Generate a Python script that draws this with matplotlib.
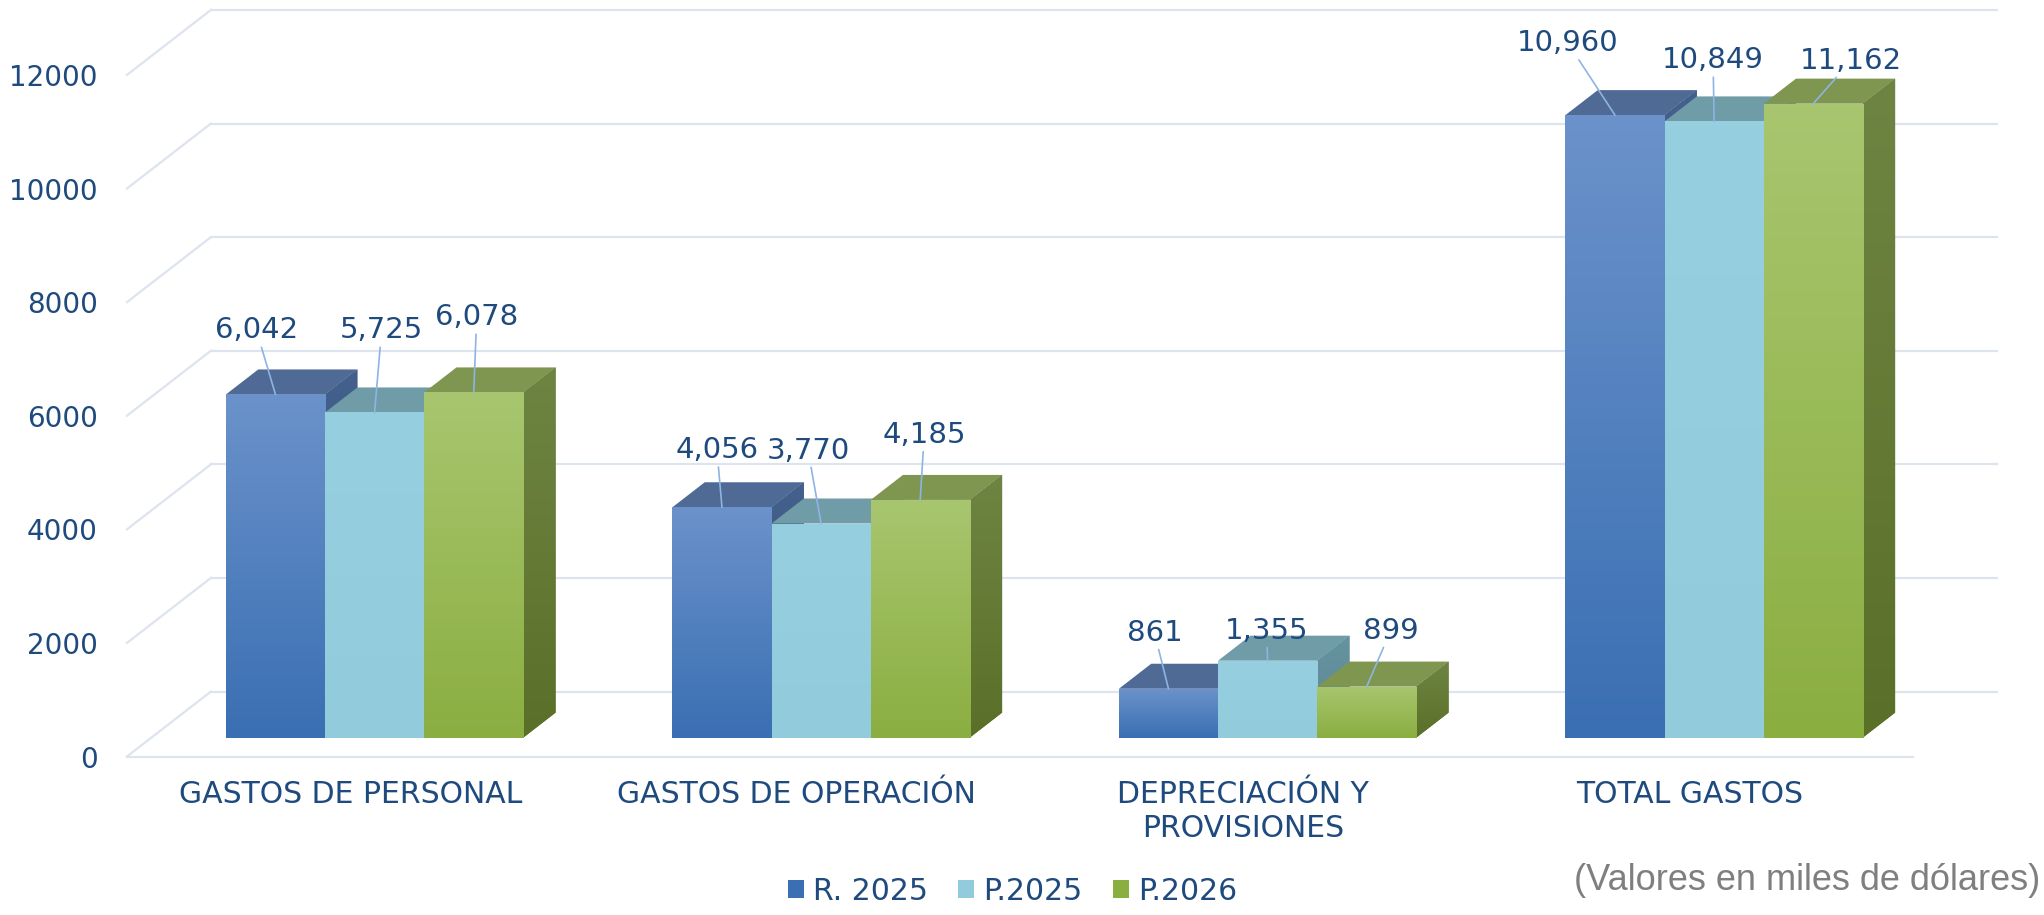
import numpy as np
import matplotlib.pyplot as plt
from matplotlib.patches import Polygon, Patch
from matplotlib.colors import LinearSegmentedColormap

categories = ["GASTOS DE PERSONAL", "GASTOS DE OPERACIÓN",
              "DEPRECIACIÓN Y\nPROVISIONES", "TOTAL GASTOS"]
series = ["R. 2025", "P.2025", "P.2026"]
r2025 = [6042, 4056, 861, 10960]
p2025 = [5725, 3770, 1355, 10849]
p2026 = [6078, 4185, 899, 11162]
yticks = [0, 2000, 4000, 6000, 8000, 10000, 12000]

values = [r2025, p2025, p2026]

TXT = '#1F4A7D'
GRID = '#DDE4EE'
LEADER = '#8EB4E3'
FS = 20

# colours per series: front (top, bottom), top face, side (top, bottom)
front_top = ['#6B92CA', '#96CFDF', '#A8C66F']
front_bot = ['#3A6FB3', '#92CBDB', '#8BAE41']
top_col = ['#4F6B95', '#6F9CA6', '#7F9651']
side_top = ['#44618D', '#6693A0', '#6E8442']
side_bot = ['#34507A', '#5A8792', '#5A7029']

# data label offsets in pixels (label centre - bar top)
label_off = [[(-19, -64), (7, -82), (3, -75)],
             [(-5, -57), (-13, -73), (4, -65)],
             [(-14, -56), (-1, -30), (24, -56)],
             [(-47, -72), (-1, -61), (38, -43)]]

# pseudo 3d geometry
W = 0.222          # bar width
DX, DY = 0.188, 1144   # full floor depth in data units
F0, F1 = 0.29, 0.675   # bar front / back depth

fig = plt.figure(figsize=(20.44, 9.15), dpi=100)
ax = fig.add_axes([127/2044, 158.5/915, 1786/2044, 681.6/915])
ax.set_xlim(-0.5, 3.5)
ax.set_ylim(0, 12000)
ax.set_frame_on(False)


def grad_fill(poly_xy, c_top, c_bot, z):
    poly = Polygon(poly_xy, closed=True, facecolor=c_bot, lw=0, zorder=z)
    ax.add_patch(poly)
    xs = [p[0] for p in poly_xy]
    ys = [p[1] for p in poly_xy]
    cmap = LinearSegmentedColormap.from_list('g', [c_bot, c_top])
    im = ax.imshow(np.linspace(0, 1, 128).reshape(-1, 1), cmap=cmap,
                   extent=(min(xs), max(xs), min(ys), max(ys)),
                   origin='lower', aspect='auto', zorder=z + 0.001,
                   interpolation='bilinear')
    im.set_clip_path(poly)


# walls / grid
for t in yticks:
    ax.plot([-0.5, -0.5 + DX], [t, t + DY], color=GRID, lw=1.6,
            clip_on=False, zorder=1)
    ax.plot([-0.5 + DX, 3.5 + DX], [t + DY, t + DY], color=GRID, lw=1.6,
            clip_on=False, zorder=1)
ax.plot([-0.5, 3.5], [0, 0], color=GRID, lw=1.6, clip_on=False, zorder=1)

ddx = (F1 - F0) * DX
ddy = (F1 - F0) * DY
yb = F0 * DY
k = 0
for i in range(len(categories)):
    for j in range(len(series)):
        h = values[j][i]
        x0 = i - 1.5 * W + j * W + F0 * DX
        x1 = x0 + W
        yt = yb + h
        z = 3 + k * 0.1
        grad_fill([(x1, yb), (x1 + ddx, yb + ddy), (x1 + ddx, yt + ddy), (x1, yt)],
                  side_top[j], side_bot[j], z)
        ax.add_patch(Polygon([(x0, yt), (x1, yt), (x1 + ddx, yt + ddy), (x0 + ddx, yt + ddy)],
                             closed=True, facecolor=top_col[j], lw=0, zorder=z + 0.01))
        bars = ax.bar([x0], [h], width=W, bottom=yb, align='edge',
                      color=front_bot[j], lw=0, zorder=z + 0.02)
        cmap = LinearSegmentedColormap.from_list('f', [front_bot[j], front_top[j]])
        im = ax.imshow(np.linspace(0, 1, 128).reshape(-1, 1), cmap=cmap,
                       extent=(x0, x1, yb, yt), origin='lower', aspect='auto',
                       zorder=z + 0.03, interpolation='bilinear')
        im.set_clip_path(bars[0])
        ox, oy = label_off[i][j]
        ax.annotate(f"{h:,}", xy=((x0 + x1) / 2, yt), xytext=(ox, -oy),
                    textcoords='offset pixels', ha='center', va='center',
                    fontsize=21, color=TXT, annotation_clip=False, zorder=20,
                    arrowprops=dict(arrowstyle='-', color=LEADER, lw=1.2,
                                    shrinkA=0, shrinkB=0))
        k += 1

ax.set_xlim(-0.5, 3.5)
ax.set_ylim(0, 12000)

ax.set_yticks(yticks)
ax.set_yticklabels([str(t) for t in yticks])
ax.set_xticks(range(len(categories)))
ax.set_xticklabels(categories)
ax.tick_params(axis='y', length=0, pad=21, labelsize=FS, labelcolor=TXT)
ax.tick_params(axis='x', length=0, pad=17, labelsize=21.5, labelcolor=TXT)

handles = [Patch(facecolor=c, lw=0) for c in front_bot]
fig.legend(handles, series, loc='center', bbox_to_anchor=(0.4953, 0.026),
           ncol=3, frameon=False, fontsize=21.5, labelcolor=TXT,
           handlelength=0.55, handleheight=0.55, handletextpad=0.3,
           columnspacing=1.0)

fig.text(0.998, 0.038, "(Valores en miles de dólares)", ha='right', va='center',
         fontsize=26, color='#7F7F7F', family='Liberation Sans')

fig.savefig("out.png", dpi=100)
